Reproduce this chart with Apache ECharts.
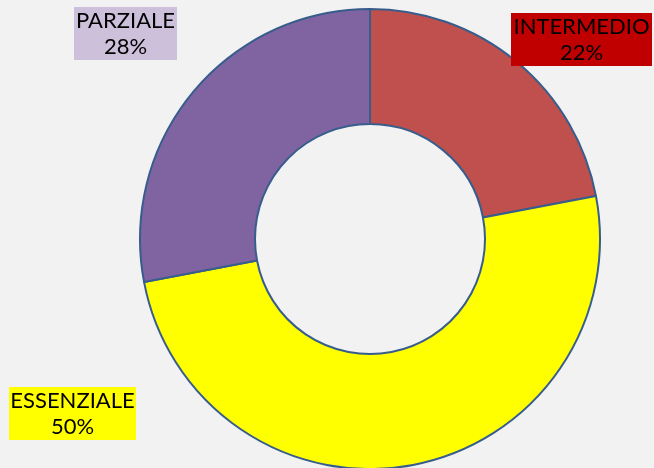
<!DOCTYPE html>
<html>
<head>
<meta charset="utf-8">
<script src="https://cdn.jsdelivr.net/npm/echarts@6/dist/echarts.min.js"></script>
<style>
  html, body { margin: 0; padding: 0; background: #f2f2f2; }
  #main { width: 654px; height: 468px; }
</style>
</head>
<body>
<div id="main"></div>
<script>
var categories = ['INTERMEDIO', 'ESSENZIALE', 'PARZIALE'];
var values = [22, 50, 28];

// colori delle fette e dei riquadri etichetta
var sliceColors = ['#c0504d', '#ffff00', '#8064a2'];
var boxColors = ['#c00000', '#ffff00', '#ccc0da'];
// posizione (angolo in alto a sinistra) e larghezza dei riquadri
var boxPos = [[511, 13, 141], [9, 387, 127], [74, 7, 103]];

var chartData = [];
for (var i = 0; i < categories.length; i++) {
  chartData.push({
    name: categories[i],
    value: values[i],
    itemStyle: { color: sliceColors[i] },
    label: { backgroundColor: boxColors[i], width: boxPos[i][2] }
  });
}

var myChart = echarts.init(document.getElementById('main'));
var option = {
  backgroundColor: '#f2f2f2',
  animation: false,
  series: [
    {
      type: 'pie',
      center: [370, 239],
      radius: [115, 230],
      startAngle: 90,
      clockwise: true,
      itemStyle: { borderColor: '#375d8c', borderWidth: 2 },
      emphasis: { disabled: true },
      labelLine: { show: false },
      label: {
        show: true,
        color: '#000',
        fontFamily: 'Lato, "Open Sans", sans-serif',
        fontSize: 22,
        lineHeight: 26,
        align: 'center',
        overflow: 'none',
        padding: [1, 0, 0, 0],
        formatter: function (p) {
          return p.name + '\n' + Math.round(p.percent) + '%';
        }
      },
      labelLayout: function (params) {
        var b = boxPos[params.dataIndex];
        return { x: b[0] + b[2] / 2, y: b[1], align: 'center', verticalAlign: 'top' };
      },
      data: chartData
    }
  ]
};
myChart.setOption(option, true);
</script>
</body>
</html>
